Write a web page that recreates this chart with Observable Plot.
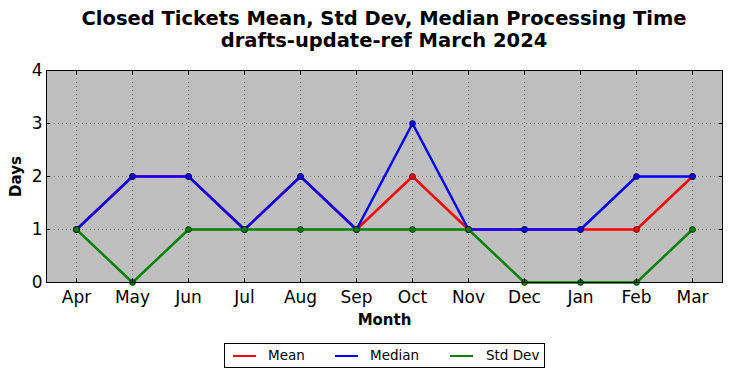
<!DOCTYPE html>
<html><head><meta charset="utf-8">
<script src="https://cdn.jsdelivr.net/npm/d3@7"></script>
<script src="https://cdn.jsdelivr.net/npm/@observablehq/plot@0.6"></script>
<style>
body{margin:0;background:#fff;font-family:"DejaVu Sans",sans-serif;overflow:hidden;}
#wrap{position:relative;width:732px;height:378px;overflow:hidden;}
#title{position:absolute;top:8px;left:18px;width:732px;text-align:center;font-weight:bold;font-size:19.5px;line-height:22px;color:#000;white-space:nowrap;}
#legend{position:absolute;left:224px;top:343px;width:321px;height:25px;border:1px solid #000;box-sizing:border-box;font-size:13.5px;background:#fff;}
.li{position:absolute;top:0;height:23px;line-height:23px;}
.sw{position:absolute;top:11px;width:23px;height:2px;}
</style></head>
<body><div id="wrap"><div id="chart"></div><div id="title"></div><div id="legend"></div></div>
<script>
const titleLines = ["Closed Tickets Mean, Std Dev, Median Processing Time", "drafts-update-ref March 2024"];
const months = ["Apr","May","Jun","Jul","Aug","Sep","Oct","Nov","Dec","Jan","Feb","Mar"];
const meanValues   = [1,2,2,1,2,1,2,1,1,1,1,2];
const medianValues = [1,2,2,1,2,1,3,1,1,1,2,2];
const stdValues    = [1,0,1,1,1,1,1,1,0,0,0,1];
const seriesNames  = ["Mean","Median","Std Dev"];
const seriesColors = ["#ff0000","#0000ff","#008000"];
const yTicks = [0,1,2,3,4];

const series = [meanValues, medianValues, stdValues];
const rows = series.map((vals, i) => months.map((m, j) => ({month: m, value: vals[j], name: seriesNames[i]})));

document.getElementById("title").innerHTML = titleLines.join("<br>");

const marks = [
  Plot.frame({fill: "#bfbfbf"}),
  Plot.gridY(yTicks.slice(1, -1), {stroke: "#808080", strokeOpacity: 1, strokeDasharray: "1,3"}),
  Plot.gridX(months, {stroke: "#808080", strokeOpacity: 1, strokeDasharray: "1,3"})
];
rows.forEach((r, i) => {
  marks.push(Plot.line(r, {x: "month", y: "value", stroke: seriesColors[i], strokeWidth: 2.5}));
  marks.push(Plot.dot(r, {x: "month", y: "value", r: 3, fill: seriesColors[i], stroke: "#000", strokeWidth: 0.6}));
});
marks.push(
  Plot.frame({stroke: "#000", strokeWidth: 1}),
  Plot.axisY(yTicks, {anchor: "left", tickSize: -4, tickPadding: 8, fontSize: 17, label: null, tickFormat: d => String(d)}),
  Plot.axisY(yTicks, {anchor: "right", tickSize: -4, tickFormat: () => "", label: null}),
  Plot.axisX(months, {anchor: "bottom", tickSize: -4, tickPadding: 12, fontSize: 17, label: null}),
  Plot.axisX(months, {anchor: "top", tickSize: -4, tickFormat: () => "", label: null}),
  Plot.text(["Days"], {frameAnchor: "left", dx: -30, rotate: -90, textAnchor: "middle", lineAnchor: "middle", fontSize: 15, fontWeight: "bold", fill: "#000"}),
  Plot.text(["Month"], {frameAnchor: "bottom", dy: 38, textAnchor: "middle", lineAnchor: "middle", fontSize: 15, fontWeight: "bold", fill: "#000"})
);

const chart = Plot.plot({
  width: 732, height: 378,
  marginLeft: 46, marginRight: 10, marginTop: 70, marginBottom: 96,
  style: {fontFamily: "DejaVu Sans, sans-serif", color: "#000", background: "transparent"},
  x: {type: "point", domain: months, padding: 0.5, axis: null},
  y: {domain: [0, 4], axis: null},
  marks
});
document.getElementById("chart").appendChild(chart);

const lg = document.getElementById("legend");
const swLeft = [8, 110, 225];
const txLeft = [43, 145, 261];
seriesNames.forEach((n, i) => {
  const s = document.createElement("div");
  s.className = "sw"; s.style.left = swLeft[i] + "px"; s.style.background = seriesColors[i];
  lg.appendChild(s);
  const t = document.createElement("div");
  t.className = "li"; t.style.left = txLeft[i] + "px"; t.textContent = n;
  lg.appendChild(t);
});
</script></body></html>
